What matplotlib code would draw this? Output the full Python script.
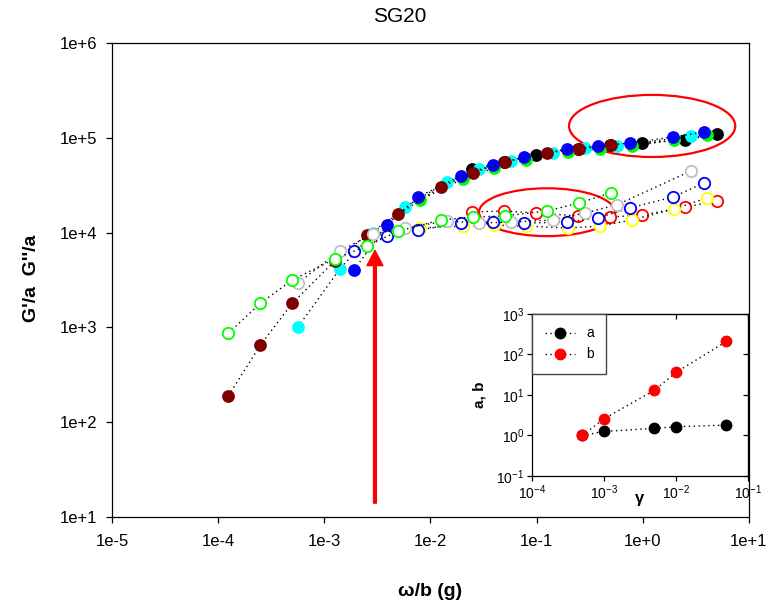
import numpy as np
import matplotlib
matplotlib.use("Agg")
import matplotlib.pyplot as plt
from matplotlib.patches import Ellipse
from matplotlib.ticker import FixedLocator, FuncFormatter, NullLocator, NullFormatter

plt.rcParams['font.family'] = ['Liberation Sans', 'DejaVu Sans']
plt.rcParams['mathtext.fontset'] = 'custom'
plt.rcParams['mathtext.rm'] = 'Liberation Sans'
plt.rcParams['mathtext.bf'] = 'Liberation Sans:bold'

# reduced frequency (omega/b) and reduced moduli (G/a) for each strain amplitude
# gamma = 5e-4
x1 = [1.25e-4, 2.5e-4, 5e-4, 1.25e-3, 2.5e-3, 5e-3, 1.25e-2, 2.5e-2, 5e-2, 0.125, 0.25, 0.5]
gp1 = [190, 650, 1800, 5000, 9400, 15700, 30300, 42500, 55600, 69200, 76200, 84000]
gpp1 = [870, 1800, 3160, 5270, 7200, 10400, 13600, 14600, 15000, 16900, 20500, 26200]
# gamma = 1e-3
x2 = [5.65e-4, 1.4e-3, 2.87e-3, 5.75e-3, 1.43e-2, 2.86e-2, 5.73e-2, 0.143, 0.285, 0.57, 2.84]
gp2 = [1010, 4130, 9900, 18600, 34200, 46900, 56900, 69100, 78100, 81900, 104500]
gpp2 = [2940, 6400, 9660, 11200, 13300, 12600, 12900, 13600, 16100, 19600, 44700]
# gamma = 5e-3
x3 = [1.9e-3, 3.89e-3, 7.62e-3, 1.94e-2, 3.88e-2, 7.6e-2, 0.193, 0.378, 0.757, 1.92, 3.77]
gp3 = [4030, 12000, 23700, 39600, 51600, 62700, 76200, 81900, 88100, 101900, 115000]
gpp3 = [6400, 9210, 10600, 12600, 12900, 12600, 12900, 14300, 18200, 23700, 33400]
# gamma = 1e-2
x4 = [7.96e-3, 2.02e-2, 3.96e-2, 7.92e-2, 0.197, 0.394, 0.791, 1.96, 4.02]
gp4 = [22100, 36800, 48000, 58300, 70800, 76200, 81900, 94800, 107000]
gpp4 = [11200, 11700, 12000, 11700, 11200, 11700, 13600, 17700, 23200]
# gamma = 5e-2
x5 = [0.0246, 0.0492, 0.0986, 0.245, 0.491, 0.982, 2.49, 4.99]
gp5 = [46900, 55600, 65900, 76200, 84000, 88100, 94800, 109600]
gpp5 = [16500, 16900, 16100, 15000, 14600, 15300, 18600, 21500]

# shift factors vs strain
gamma = [5e-4, 1e-3, 5e-3, 1e-2, 5e-2]
a_shift = [1.0, 1.26, 1.5, 1.65, 1.8]
b_shift = [1.0, 2.6, 13, 36, 210]

fig = plt.figure(figsize=(7.77, 6.10), dpi=100)
ax = fig.add_axes([0.1441, 0.1525, 0.8198, 0.7770])
ax.set_xscale('log')
ax.set_yscale('log')
ax.set_xlim(1e-5, 10)
ax.set_ylim(10, 1e6)

dot = dict(color='black', linestyle=(0, (1, 2.5)), linewidth=1.0)
ms = 9.2

# G' (filled)
for x, y, c in [(x5, gp5, 'black'), (x4, gp4, '#00ff00'), (x2, gp2, '#00ffff'),
                (x3, gp3, '#0000ff'), (x1, gp1, '#800000')]:
    ax.plot(x, y, **dot)
    ax.plot(x, y, 'o', ms=ms, mfc=c, mec=c, mew=0, ls='none')

# G'' (open)
for x, y, c in [(x5, gpp5, '#ff0000'), (x4, gpp4, '#ffff00'), (x3, gpp3, '#0000ff'),
                (x2, gpp2, '#c0c0c0'), (x1, gpp1, '#00ff00')]:
    ax.plot(x, y, **dot)
    ax.plot(x, y, 'o', ms=ms - 1, mfc='white', mec=c, mew=1.3, ls='none')

ax.xaxis.set_major_locator(FixedLocator(10.0 ** np.arange(-5, 2)))
ax.yaxis.set_major_locator(FixedLocator(10.0 ** np.arange(1, 7)))
ax.xaxis.set_minor_locator(NullLocator())
ax.yaxis.set_minor_locator(NullLocator())
sci = FuncFormatter(lambda v, pos: '1e%+d' % round(np.log10(v)))
ax.xaxis.set_major_formatter(sci)
ax.yaxis.set_major_formatter(sci)
ax.tick_params(axis='both', direction='out', length=4.5, width=0.9, labelsize=12)
ax.tick_params(axis='x', pad=8)
ax.tick_params(axis='y', pad=6)
for sp in ax.spines.values():
    sp.set_linewidth(0.9)

# highlighted regions
ax.add_patch(Ellipse((0.848, 0.825), 0.261, 0.131, transform=ax.transAxes,
                     fill=False, edgecolor='red', linewidth=1.6))
ax.add_patch(Ellipse((0.683, 0.643), 0.2135, 0.101, transform=ax.transAxes,
                     fill=False, edgecolor='red', linewidth=1.6))
ax.annotate('', xy=(3e-3, 6500), xytext=(3e-3, 14),
            arrowprops=dict(facecolor='red', edgecolor='red', width=2.0,
                            headwidth=11.5, headlength=11))

fig.text(0.515, 0.973, 'SG20', ha='center', va='center', fontsize=15)
fig.text(0.553, 0.030, 'ω/b (g)', ha='center', va='center', fontsize=14, fontweight='bold')
fig.text(0.041, 0.543, "G'/a  G''/a", ha='center', va='center', rotation=90,
         fontsize=14, fontweight='bold')

# inset: shift factors
ins = fig.add_axes([0.6847, 0.2197, 0.278, 0.2656])
ins.set_xscale('log')
ins.set_yscale('log')
ins.set_xlim(1e-4, 1e-1)
ins.set_ylim(0.1, 1000)
ins.plot(gamma, a_shift, marker='o', ms=7.5, mfc='black', mec='black', label='a', **dot)
ins.plot(gamma, b_shift, marker='o', ms=7.5, mfc='red', mec='red', label='b', **dot)
xt = 10.0 ** np.arange(-4, 0)
yt = 10.0 ** np.arange(-1, 4)
ins.xaxis.set_major_locator(FixedLocator(xt))
ins.yaxis.set_major_locator(FixedLocator(yt))
ins.xaxis.set_minor_locator(NullLocator())
ins.yaxis.set_minor_locator(NullLocator())
pw = FuncFormatter(lambda v, pos: r'$\mathdefault{10^{%d}}$' % round(np.log10(v)))
ins.xaxis.set_major_formatter(pw)
ins.yaxis.set_major_formatter(pw)
ins.tick_params(axis='both', direction='out', length=3.5, width=0.9, labelsize=10, pad=2)
for sp in ins.spines.values():
    sp.set_linewidth(0.9)

# inward ticks on the top and right edges
ident = (lambda v: v, lambda v: v)
top = ins.secondary_xaxis('top', functions=ident)
top.xaxis.set_major_locator(FixedLocator(xt))
top.xaxis.set_minor_locator(NullLocator())
top.xaxis.set_major_formatter(NullFormatter())
top.tick_params(direction='in', length=3.5, width=0.9)
right = ins.secondary_yaxis('right', functions=ident)
right.yaxis.set_major_locator(FixedLocator(yt))
right.yaxis.set_minor_locator(NullLocator())
right.yaxis.set_major_formatter(NullFormatter())
right.tick_params(direction='in', length=3.5, width=0.9)

ins.set_xlabel('γ', fontsize=12, fontweight='bold', labelpad=-8)
ins.set_ylabel('a, b', fontsize=11, fontweight='bold', labelpad=7)
leg = ins.legend(loc='upper left', borderaxespad=0, fontsize=10, handlelength=2.2,
                 fancybox=False, framealpha=1, edgecolor='#444444', borderpad=0.9,
                 labelspacing=0.5)
leg.get_frame().set_linewidth(1.0)

fig.savefig('out.png', dpi=100)
